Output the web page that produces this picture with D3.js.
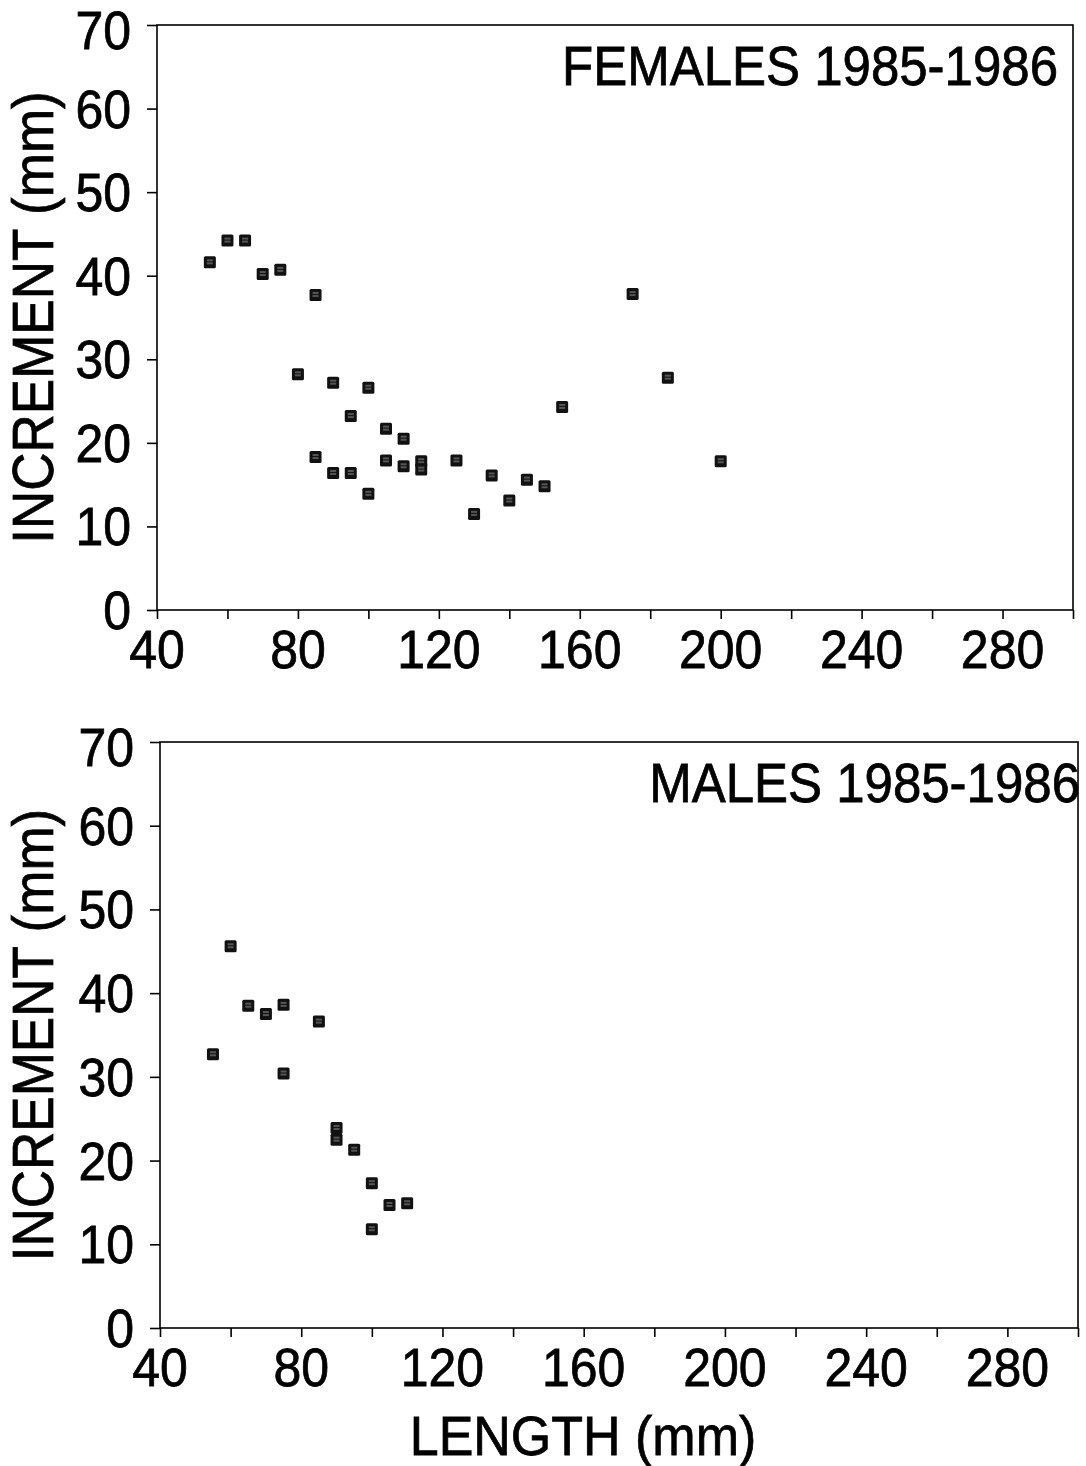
<!DOCTYPE html>
<html>
<head>
<meta charset="utf-8">
<script src="https://cdn.jsdelivr.net/npm/d3@7"></script>
<style>
  html, body { margin: 0; padding: 0; background: #fff; }
  svg { display: block; }
  text { font-family: "Liberation Sans", Arial, Helvetica, sans-serif; fill: #000; stroke: #000; stroke-width: 0.7px; }
</style>
</head>
<body>
<svg id="chart" width="1086" height="1466"></svg>
<script>
// ---- data ----
const femaleLength    = [55, 60, 65, 70, 75, 85, 80, 90, 100, 95, 105, 110, 85, 90, 95, 100, 105, 110, 115, 115, 125, 130, 135, 140, 145, 150, 155, 175, 185, 200];
const femaleIncrement = [41.6, 44.2, 44.2, 40.2, 40.7, 37.7, 28.2, 27.2, 26.6, 23.2, 21.7, 20.5, 18.3, 16.4, 16.4, 13.9, 17.9, 17.2, 17.8, 16.8, 17.9, 11.5, 16.1, 13.1, 15.6, 14.8, 24.3, 37.8, 27.8, 17.8];
const maleLength      = [55, 60, 65, 70, 75, 75, 85, 90, 90, 95, 100, 100, 105, 110];
const maleIncrement   = [32.7, 45.6, 38.5, 37.5, 38.6, 30.4, 36.6, 23.9, 22.5, 21.3, 17.3, 11.8, 14.7, 14.9];
const xTicks      = [40, 60, 80, 100, 120, 140, 160, 180, 200, 220, 240, 260, 280, 300];
const xTickLabels = [40, 80, 120, 160, 200, 240, 280];
const yTicks      = [0, 10, 20, 30, 40, 50, 60, 70];
const panelTitles = ["FEMALES 1985-1986", "MALES 1985-1986"];
const yAxisTitle  = "INCREMENT (mm)";
const xAxisTitle  = "LENGTH (mm)";

const svg = d3.select("#chart");
const SY = 1.08; // vertical stretch of the original lettering

function label(parent, x, y, str, size, anchor, rot) {
  const r = rot ? ` rotate(${rot})` : "";
  return parent.append("text")
    .attr("transform", `translate(${x},${y})${r} scale(1,${SY})`)
    .attr("text-anchor", anchor).attr("font-size", size).text(str);
}

// marker texture
const defs = svg.append("defs");
const pat = defs.append("pattern").attr("id", "mk").attr("patternUnits", "objectBoundingBox")
  .attr("width", 1).attr("height", 1);
pat.append("rect").attr("width", 12).attr("height", 12).attr("fill", "#111");
pat.append("line").attr("x1", 3).attr("x2", 9).attr("y1", 4).attr("y2", 4).attr("stroke", "#9a9a9a").attr("stroke-width", 1);
pat.append("line").attr("x1", 3).attr("x2", 9).attr("y1", 7).attr("y2", 7).attr("stroke", "#9a9a9a").attr("stroke-width", 1);

function panel(cfg) {
  const x = d3.scaleLinear().domain([40, 300]).range([cfg.left, cfg.right]);
  const y = d3.scaleLinear().domain([0, 70]).range([cfg.bottom, cfg.top]);
  const g = svg.append("g");

  // frame
  g.append("rect").attr("x", cfg.left).attr("y", cfg.top)
    .attr("width", cfg.right - cfg.left).attr("height", cfg.bottom - cfg.top)
    .attr("fill", "none").attr("stroke", "#000").attr("stroke-width", 1.6);

  // x axis
  const xa = g.append("g").attr("transform", `translate(0,${cfg.bottom})`)
    .call(d3.axisBottom(x).tickValues(xTicks).tickSize(9).tickFormat(""));
  xa.select(".domain").remove();
  xa.selectAll("line").attr("stroke-width", 1.6);
  xTickLabels.forEach(d => label(g, x(d), cfg.bottom + 58, d, 50, "middle"));

  // y axis
  const ya = g.append("g").attr("transform", `translate(${cfg.left},0)`)
    .call(d3.axisLeft(y).tickValues(yTicks).tickSize(10).tickFormat(""));
  ya.select(".domain").remove();
  ya.selectAll("line").attr("stroke-width", 1.6);
  yTicks.forEach(d => label(g, cfg.left - 26, y(d) + (d === 70 ? 24 : 19), d, 50, "end"));

  // y title
  label(g, 53, (cfg.top + cfg.bottom) / 2, yAxisTitle, 53, "middle", -90);

  // panel title
  label(g, cfg.titleX, cfg.top + 60, cfg.title, 51, "end");

  // points
  const pts = cfg.xs.map((v, i) => ({ len: v, inc: cfg.ys[i] }));
  g.selectAll(".pt").data(pts).enter().append("rect")
    .attr("class", "pt")
    .attr("x", d => x(d.len) - 6).attr("y", d => y(d.inc) - 6)
    .attr("width", 12).attr("height", 12).attr("rx", 1.5)
    .attr("fill", "url(#mk)");
  return { x, y };
}

panel({ left: 157, right: 1073, top: 25, bottom: 610, title: panelTitles[0], titleX: 1058,
        xs: femaleLength, ys: femaleIncrement });
panel({ left: 160, right: 1078, top: 742, bottom: 1328, title: panelTitles[1], titleX: 1080,
        xs: maleLength, ys: maleIncrement });

label(svg, 583, 1455, xAxisTitle, 52, "middle");
</script>
</body>
</html>
